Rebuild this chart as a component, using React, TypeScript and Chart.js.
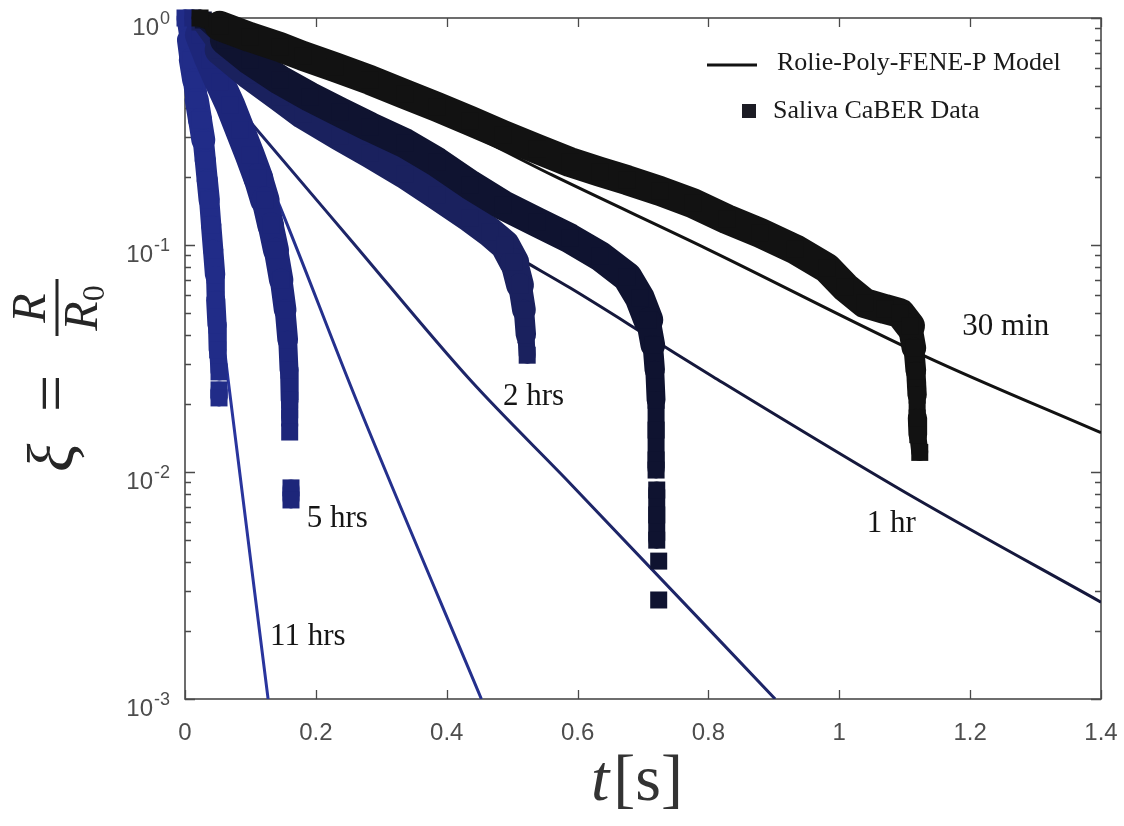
import React, { useEffect, useRef } from "react";
import { Chart, registerables } from "chart.js";

Chart.register(...registerables);

// ---- CaBER filament thinning data: time t [s] and ξ = R/R0 ----
// null entries mark breaks in the recorded filament signal
const t30min = [0.023, 0.053, 0.099, 0.145, 0.18, 0.229, 0.283, 0.336, 0.385, 0.436, 0.486, 0.538, 0.588, 0.634, 0.676, 0.726, 0.776, 0.828, 0.879, 0.932, 0.981, 1.009, 1.039, 1.07, 1.093, 1.108, 1.114, 1.117, 1.119, 1.119, 1.12, 1.123];
const xi30min = [1.0, 0.923, 0.824, 0.745, 0.681, 0.608, 0.533, 0.462, 0.406, 0.352, 0.305, 0.265, 0.232, 0.21, 0.193, 0.173, 0.153, 0.13, 0.113, 0.096, 0.0792, 0.0653, 0.0555, 0.0522, 0.0501, 0.044, 0.0352, 0.0279, 0.0218, 0.0173, 0.0146, 0.0122];

const t1hr = [0.028, 0.061, 0.099, 0.145, 0.191, 0.237, 0.283, 0.336, 0.385, 0.436, 0.486, 0.538, 0.588, 0.634, 0.676, 0.695, 0.708, 0.715, 0.718, 0.72, 0.72, 0.72, 0.72, 0.72, 0.721, 0.721, 0.721, 0.721, 0.724, 0.724, 0.724];
const xi1hr = [0.98, 0.8, 0.653, 0.533, 0.449, 0.385, 0.331, 0.281, 0.232, 0.184, 0.15, 0.126, 0.107, 0.0895, 0.0723, 0.0585, 0.0468, 0.0362, 0.0281, 0.0207, 0.0153, 0.0113, 0.0102, null, 0.00833, 0.00647, 0.00501, null, 0.00405, null, 0.00273];

const t2hrs = [0.023, 0.053, 0.099, 0.145, 0.18, 0.237, 0.283, 0.336, 0.385, 0.436, 0.466, 0.489, 0.503, 0.512, 0.518, 0.521, 0.523];
const xi2hrs = [0.96, 0.723, 0.561, 0.449, 0.378, 0.302, 0.254, 0.206, 0.166, 0.132, 0.114, 0.1, 0.0841, 0.0667, 0.0518, 0.0402, 0.0327];

const t5hrs = [0.012, 0.023, 0.038, 0.053, 0.069, 0.084, 0.099, 0.112, 0.122, 0.131, 0.139, 0.147, 0.153, 0.157, 0.159, 0.16, 0.16, 0.16, 0.16, 0.16, 0.162, 0.162];
const xi5hrs = [1.0, 0.841, 0.653, 0.522, 0.414, 0.321, 0.249, 0.197, 0.158, 0.122, 0.0951, 0.0701, 0.0518, 0.0381, 0.0281, 0.0207, 0.0173, null, 0.015, null, 0.00851, 0.00753];

const t11hrs = [0.0, 0.005, 0.009, 0.014, 0.018, 0.023, 0.028, 0.031, 0.034, 0.037, 0.04, 0.043, 0.046, 0.047, 0.049, 0.05, 0.052, 0.052, 0.052, 0.052];
const xi11hrs = [1.0, 0.8, 0.653, 0.533, 0.435, 0.356, 0.29, 0.237, 0.193, 0.158, 0.122, 0.0951, 0.0738, 0.0573, 0.0444, 0.0345, 0.0276, null, 0.023, 0.0212];

// ---- Rolie-Poly-FENE-P model curves ----
const tModel30min = [0, 0.1, 0.25, 0.4, 0.56, 0.8, 1.134, 1.4];
const xiModel30min = [1, 0.794, 0.537, 0.347, 0.204, 0.0955, 0.0321, 0.0149];
const tModel1hr = [0, 0.1, 0.25, 0.4, 0.497, 0.589, 0.726, 0.807, 1.113, 1.4];
const xiModel1hr = [1, 0.562, 0.269, 0.138, 0.0923, 0.0646, 0.0367, 0.0263, 0.00776, 0.00267];
const tModel2hrs = [0, 0.024, 0.084, 0.25, 0.436, 0.588, 0.902];
const xiModel2hrs = [1, 0.631, 0.394, 0.108, 0.0254, 0.00895, 0.001];
const tModel5hrs = [0, 0.04, 0.145, 0.262, 0.453];
const xiModel5hrs = [1, 0.759, 0.148, 0.0207, 0.001];
const tModel11hrs = [0, 0.066, 0.127];
const xiModel11hrs = [1, 0.0254, 0.001];

// ---- axes ----
const xTickValues = [0, 0.2, 0.4, 0.6, 0.8, 1, 1.2, 1.4];
const xTickLabels = ["0", "0.2", "0.4", "0.6", "0.8", "1", "1.2", "1.4"];
const yDecadeExponents = [0, -1, -2, -3];

// ---- curve annotations (text, left t, baseline ξ) ----
const ageLabels = ["30 min", "1 hr", "2 hrs", "5 hrs", "11 hrs"];
const ageLabelT = [1.188, 1.042, 0.486, 0.186, 0.13];
const ageLabelXi = [0.0401, 0.00544, 0.0197, 0.00573, 0.00173];

const legendEntries = ["Rolie-Poly-FENE-P Model", "Saliva CaBER Data"];

const dataColors = ["#121212", "#0f1330", "#1a215e", "#1d267a", "#212c88"];
const modelColors = ["#121212", "#15183c", "#1d2568", "#24308d", "#29359d"];

const pairs = (t: number[], xi: (number | null)[]) =>
  t.map((v, i) => ({ x: v, y: xi[i] }));

const SERIF = "'Liberation Serif', 'Times New Roman', serif";
const SANS = "'Liberation Sans', Arial, sans-serif";

const MARKER_SIDE = 17;

export default function App() {
  const canvasRef = useRef<HTMLCanvasElement | null>(null);

  useEffect(() => {
    const canvas = canvasRef.current;
    if (!canvas) return;

    // the dense marker cloud reads as a band: wide where the decay is
    // gradual, one marker wide where it drops vertically and at run ends
    const bandWidth = (xi: (number | null)[]) => (ctx: any) => {
      const i0 = ctx.p0DataIndex;
      const i1 = ctx.p1DataIndex;
      const atEnd =
        i0 === 0 || i1 === xi.length - 1 || xi[i0 - 1] === null || xi[i1 + 1] === null;
      if (atEnd) return MARKER_SIDE;
      const dx = Math.abs(ctx.p1.x - ctx.p0.x);
      const dy = Math.abs(ctx.p1.y - ctx.p0.y);
      const len = Math.hypot(dx, dy) || 1;
      return MARKER_SIDE + 13 * Math.min(1, dx / len / 0.3);
    };

    const dataSets = [
      [t30min, xi30min],
      [t1hr, xi1hr],
      [t2hrs, xi2hrs],
      [t5hrs, xi5hrs],
      [t11hrs, xi11hrs],
    ].map(([t, xi], i) => ({
      label: ageLabels[i] + " data",
      data: pairs(t as number[], xi as (number | null)[]),
      showLine: true,
      spanGaps: false,
      borderColor: dataColors[i],
      backgroundColor: dataColors[i],
      borderWidth: MARKER_SIDE,
      borderCapStyle: "round" as const,
      borderJoinStyle: "round" as const,
      segment: { borderWidth: bandWidth(xi as (number | null)[]) },
      pointStyle: "rect" as const,
      pointRadius: (MARKER_SIDE / 2) * Math.SQRT2,
      pointBorderWidth: 0,
      pointBackgroundColor: dataColors[i],
      clip: false as const,
      order: i,
    }));

    const modelSets = [
      [tModel30min, xiModel30min],
      [tModel1hr, xiModel1hr],
      [tModel2hrs, xiModel2hrs],
      [tModel5hrs, xiModel5hrs],
      [tModel11hrs, xiModel11hrs],
    ].map(([t, xi], i) => ({
      label: ageLabels[i] + " model",
      data: pairs(t, xi),
      showLine: true,
      borderColor: modelColors[i],
      borderWidth: 3,
      pointRadius: 0,
      cubicInterpolationMode: "monotone" as const,
      order: 10 + i,
    }));

    const framePlugin = {
      id: "frame",
      beforeDatasetsDraw(chart: any) {
        const { ctx, chartArea: a, scales } = chart;
        const x = scales.x;
        const y = scales.y;
        ctx.save();
        ctx.strokeStyle = "#4a4a4a";
        ctx.lineWidth = 1.6;
        ctx.strokeRect(a.left, a.top, a.right - a.left, a.bottom - a.top);
        ctx.lineWidth = 1.3;
        ctx.beginPath();
        xTickValues.forEach((v) => {
          const px = Math.round(x.getPixelForValue(v)) + 0.5;
          ctx.moveTo(px, a.bottom);
          ctx.lineTo(px, a.bottom - 9);
          ctx.moveTo(px, a.top);
          ctx.lineTo(px, a.top + 9);
        });
        yDecadeExponents.forEach((e) => {
          for (let m = 1; m <= 9; m++) {
            const v = m * Math.pow(10, e);
            if (v > 1.0000001) continue;
            const py = Math.round(y.getPixelForValue(v)) + 0.5;
            const len = m === 1 ? 10 : 6;
            ctx.moveTo(a.left, py);
            ctx.lineTo(a.left + len, py);
            ctx.moveTo(a.right, py);
            ctx.lineTo(a.right - len, py);
          }
        });
        ctx.stroke();

        // x tick labels
        ctx.fillStyle = "#4d4d4d";
        ctx.font = `24px ${SANS}`;
        ctx.textAlign = "center";
        ctx.textBaseline = "alphabetic";
        xTickValues.forEach((v, i) => {
          ctx.fillText(xTickLabels[i], x.getPixelForValue(v), a.bottom + 41);
        });

        // y tick labels 10^n
        yDecadeExponents.forEach((e) => {
          const py = y.getPixelForValue(Math.pow(10, e));
          const expText = e === 0 ? "0" : "-" + Math.abs(e);
          ctx.font = `18px ${SANS}`;
          const ew = ctx.measureText(expText).width;
          const right = a.left - 15;
          ctx.textAlign = "left";
          ctx.fillText(expText, right - ew, py + 6);
          ctx.font = `24px ${SANS}`;
          ctx.textAlign = "right";
          ctx.fillText("10", right - ew - 1, py + 17);
        });
        ctx.restore();
      },
      afterDatasetsDraw(chart: any) {
        const { ctx, chartArea: a, scales } = chart;
        const x = scales.x;
        const y = scales.y;
        ctx.save();

        // curve annotations
        ctx.fillStyle = "#151515";
        ctx.font = `31px ${SERIF}`;
        ctx.textAlign = "left";
        ctx.textBaseline = "alphabetic";
        ageLabels.forEach((txt, i) => {
          ctx.fillText(txt, x.getPixelForValue(ageLabelT[i]), y.getPixelForValue(ageLabelXi[i]));
        });

        // legend
        const lx = a.right - 394;
        ctx.strokeStyle = modelColors[0];
        ctx.lineWidth = 3;
        ctx.beginPath();
        ctx.moveTo(lx, a.top + 47);
        ctx.lineTo(lx + 50, a.top + 47);
        ctx.stroke();
        ctx.fillStyle = "#1c1c24";
        ctx.fillRect(lx + 35, a.top + 86, 14, 14);
        ctx.fillStyle = "#1a1a1a";
        ctx.font = `26px ${SERIF}`;
        ctx.fillText(legendEntries[0], lx + 70, a.top + 52);
        ctx.fillText(legendEntries[1], lx + 66, a.top + 100);

        // x axis title: t[s]
        ctx.fillStyle = "#333333";
        ctx.font = `italic 66px ${SERIF}`;
        const tx = (a.left + a.right) / 2 - 52;
        ctx.fillText("t", tx, a.bottom + 101);
        const tw = ctx.measureText("t").width;
        ctx.font = `66px ${SERIF}`;
        ctx.fillText("[s]", tx + tw + 4, a.bottom + 101);

        // y axis title: ξ = R / R0 (rotated)
        ctx.save();
        ctx.translate(73, 480);
        ctx.rotate(-Math.PI / 2);
        ctx.fillStyle = "#262626";
        ctx.textAlign = "left";
        ctx.font = `italic 66px ${SERIF}`;
        ctx.fillText("ξ", 8, 0);
        ctx.font = `66px ${SERIF}`;
        ctx.fillText("=", 68, 0);
        const fc = 172;
        ctx.font = `italic 48px ${SERIF}`;
        ctx.textAlign = "center";
        ctx.fillText("R", fc, -28);
        ctx.fillRect(fc - 28, -17.5, 57, 3);
        ctx.textAlign = "left";
        const rw = ctx.measureText("R").width;
        ctx.font = `32px ${SERIF}`;
        const zw = ctx.measureText("0").width;
        const start = fc - (rw + zw) / 2;
        ctx.font = `italic 48px ${SERIF}`;
        ctx.fillText("R", start, 24);
        ctx.font = `32px ${SERIF}`;
        ctx.fillText("0", start + rw, 31);
        ctx.restore();

        ctx.restore();
      },
    };

    const chart = new Chart(canvas, {
      type: "scatter",
      data: { datasets: [...dataSets, ...modelSets] as any },
      options: {
        animation: false,
        responsive: false,
        devicePixelRatio: 1,
        events: [],
        layout: { padding: { left: 185, top: 18, right: 23, bottom: 127 } },
        scales: {
          x: { type: "linear", min: 0, max: 1.4, display: false },
          y: { type: "logarithmic", min: 0.001, max: 1, display: false },
        },
        plugins: {
          legend: { display: false },
          tooltip: { enabled: false },
        },
      },
      plugins: [framePlugin],
    });

    return () => chart.destroy();
  }, []);

  return (
    <div style={{ position: "fixed", left: 0, top: 0, width: 1124, height: 826, background: "#ffffff" }}>
      <canvas ref={canvasRef} width={1124} height={826} style={{ display: "block" }} />
    </div>
  );
}
